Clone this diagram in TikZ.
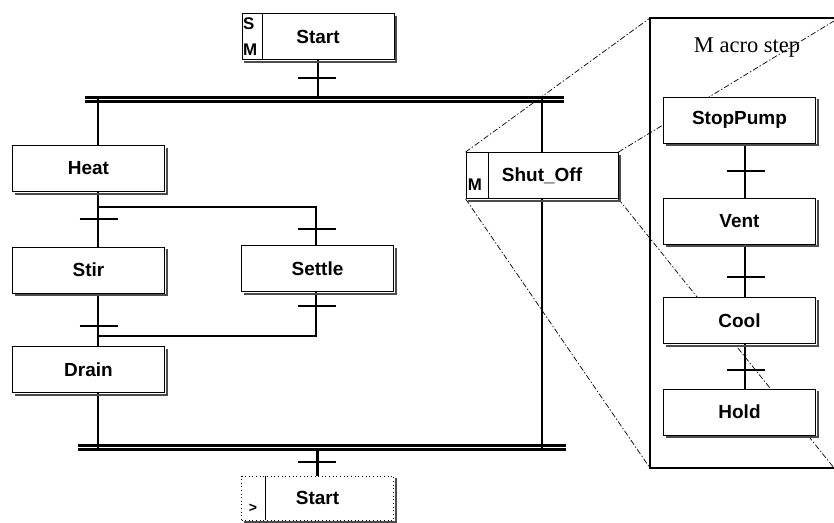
\documentclass[tikz,border=0pt]{standalone}
\usepackage{fontspec}
\setmainfont{Liberation Sans}
\newfontfamily\titlefont{Liberation Serif}
\usetikzlibrary{positioning,calc}
\tikzset{>=latex}

\tikzset{
	stepbox/.style={draw, line width=0.6pt, fill=white, minimum width=38mm, minimum height=11.5mm, inner sep=0pt,
		font=\fontsize{13.5}{16}\selectfont\bfseries},
	boxshadow/.style={line width=1.7pt, black!70},
	tagtext/.style={inner sep=0pt, align=left, font=\fontsize{12}{18.5}\selectfont\bfseries},
	link/.style={line width=1.7pt},
	trans/.style={line width=2.1pt},
	sync/.style={double, line width=2pt, double distance=1.4pt},
	proj/.style={line width=0.5pt, dash pattern=on 4pt off 1.5pt on 1pt off 1.5pt}
}

\begin{document}
\begin{tikzpicture}[x=0.25mm, y=-0.25mm]
	\useasboundingbox (0,0) rectangle (834,523);
	% x of the vertical links
	\coordinate (lx) at (98,0);
	\coordinate (sx) at (316,0);
	\coordinate (mx) at (745,0);
	
	% main chart
	\node[stepbox] (start) at (318,36.5) {Start};
	\node[stepbox] (heat) at (88.5,168.5) {Heat};
	\node[stepbox] (stir) at (88.5,270) {Stir};
	\node[stepbox] (settle) at (317.5,268.5) {Settle};
	\node[stepbox] (drain) at (88.5,369.5) {Drain};
	\node[stepbox] (shutoff) at (542,175.5) {Shut\_Off};
	\node[stepbox, dotted, minimum height=11mm] (restart) at (317.5,498) {Start};
	
	% tag cells
	\draw[line width=0.6pt] ([xshift=5.25mm]start.north west) -- ([xshift=5.25mm]start.south west);
	\node[tagtext, anchor=west] (starttag) at ([xshift=0.3mm]start.west) {S\\M};
	\draw[line width=0.6pt] ([xshift=5.75mm]shutoff.north west) -- ([xshift=5.75mm]shutoff.south west);
	\node[tagtext, anchor=south west] (shuttag) at ([xshift=0.5mm,yshift=2mm]shutoff.south west) {M};
	\draw[line width=0.6pt] ([xshift=6mm]restart.north west) -- ([xshift=6mm]restart.south west);
	\node[tagtext, font=\fontsize{10}{12}\selectfont\bfseries] (restarttag) at (253,508) {>};
	
	% parallel bars
	\coordinate (topbarL) at (85,99.5);
	\coordinate (topbarR) at (564,99.5);
	\coordinate (botbarL) at (78,447.5);
	\coordinate (botbarR) at (566,447.5);
	\draw[sync] (topbarL) -- (topbarR);
	\draw[sync] (botbarL) -- (botbarR);
	
	% links
	\coordinate (split) at (98,207);
	\coordinate (merge) at (98,336);
	\draw[link] (start.south) -- (start.south |- topbarL);
	\draw[link] (topbarL -| lx) -- (heat.north -| lx);
	\draw[link] (heat.south -| lx) -- (stir.north -| lx);
	\draw[link] (split) -| (settle.north -| sx);
	\draw[link] (stir.south -| lx) -- (drain.north -| lx);
	\draw[link] (settle.south -| sx) |- (merge);
	\draw[link] (drain.south -| lx) -- (botbarL -| lx);
	\draw[link] (topbarR -| shutoff.north) -- (shutoff.north);
	\draw[link] (shutoff.south) -- (botbarR -| shutoff.south);
	\draw[link] (botbarL -| restart.north) -- (restart.north);
	
	% macro step frame and projection
	\coordinate (mTL) at (650,18);
	\coordinate (mTR) at (834,21);
	\coordinate (mBL) at (650,468);
	\coordinate (mBR) at (834,468);
	\draw[proj] (shutoff.north west) -- (mTL);
	\draw[proj] (shutoff.north east) -- (mTR);
	\draw[proj] (shutoff.south west) -- (mBL);
	\draw[proj] (shutoff.south east) -- (mBR);
	\draw[line width=2.1pt] (840,18) -- (mTL) -- (mBL) -- (840,468);
	\node[font=\titlefont\fontsize{16}{18}\selectfont] (macrotitle) at (747,48) {M acro step};
	
	\node[stepbox] (stoppump) at (739.5,120) {StopPump};
	\node[stepbox] (vent) at (739.5,221) {Vent};
	\node[stepbox] (cool) at (739.5,320.5) {Cool};
	\node[stepbox] (hold) at (739.5,412) {Hold};
	\draw[link] (stoppump.south -| mx) -- (vent.north -| mx);
	\draw[link] (vent.south -| mx) -- (cool.north -| mx);
	\draw[link] (cool.south -| mx) -- (hold.north -| mx);
	
	% shadows on the right and bottom of the steps
	\foreach \n in {start,heat,stir,settle,drain,shutoff,restart,stoppump,vent,cool,hold}
		\draw[boxshadow] ([xshift=1.3pt,yshift=-2pt]\n.north east) -- ([xshift=1.3pt,yshift=-1.3pt]\n.south east) -- ([xshift=2pt,yshift=-1.3pt]\n.south west);
	
	% transitions
	\foreach \tx/\ty in {317/78, 98.5/219, 316.5/229, 316.5/306, 98.5/326, 317/462, 745.5/171, 745.5/277, 745.5/370}
		\draw[trans] (\tx-19,\ty) -- (\tx+19,\ty);
\end{tikzpicture}
\end{document}
